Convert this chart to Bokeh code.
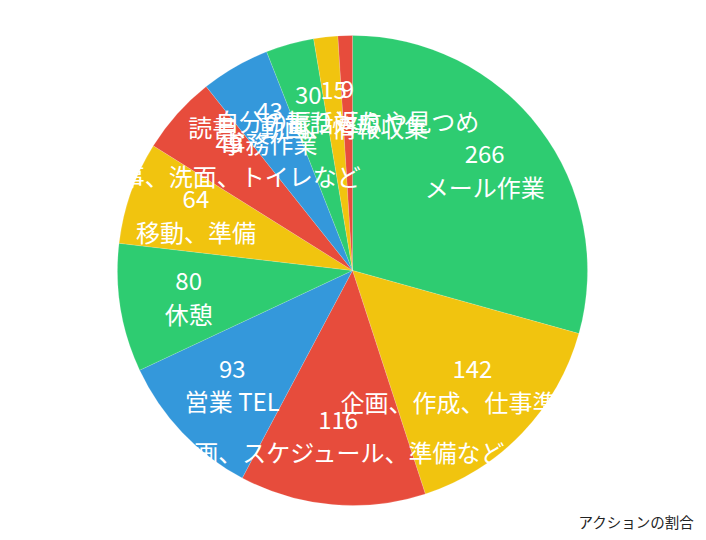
"""
Pie chart of how the working time was spent (アクションの割合).
"""

import numpy as np
from bokeh.core.properties import value
from bokeh.embed import file_html
from bokeh.models import ColumnDataSource, Range1d
from bokeh.plotting import figure
from bokeh.resources import INLINE

# slice values, clockwise from 12 o'clock
counts = [266, 142, 116, 93, 80, 64, 49, 43, 30, 15, 9]
actions = [
    "メール作業",
    "企画、作成、仕事準備等",
    "計画、スケジュール、準備など",
    "営業 TEL",
    "休憩",
    "移動、準備",
    "食事、洗面、トイレなど",
    "事務作業",
    "読書、動画、情報収集",
    "電話対応",
    "自分の振り返りや見つめ",
]
palette = ["#2ECC71", "#F1C40F", "#E74C3C", "#3498DB"]
chart_title = "アクションの割合"

FONT = "Noto Sans CJK JP"

# screen pixels are used as data units
cx, cy = 352, 270
radius = 235
label_radius = 166

values = np.array(counts, dtype=float)
fractions = values / values.sum()
ends = np.cumsum(fractions)
starts = ends - fractions
mids = (starts + ends) / 2

# clockwise from the top -> bokeh's anticlockwise angles from +x
source = ColumnDataSource(dict(
    start=np.pi / 2 - 2 * np.pi * ends,
    end=np.pi / 2 - 2 * np.pi * starts,
    color=[palette[i % len(palette)] for i in range(len(counts))],
    lx=cx + label_radius * np.sin(2 * np.pi * mids),
    ly=cy + label_radius * np.cos(2 * np.pi * mids),
    num=[str(c) for c in counts],
    name=actions,
))
source.data["num_y"] = source.data["ly"] + 16
source.data["name_y"] = source.data["ly"] - 16

p = figure(
    width=698,
    height=532,
    x_range=Range1d(0, 698),
    y_range=Range1d(8, 540),
    toolbar_location=None,
    output_backend="svg",
    min_border=0,
)
p.axis.visible = False
p.grid.visible = False
p.outline_line_color = None
p.background_fill_color = "white"

p.wedge(
    x=cx, y=cy, radius=radius,
    start_angle="start", end_angle="end", direction="anticlock",
    fill_color="color", line_color="white", line_width=0.5, line_alpha=0.3,
    source=source,
)

p.text(
    x="lx", y="num_y", text="num", source=source,
    text_color="white", text_font=value(FONT), text_font_size="24px",
    text_align="center", text_baseline="middle",
)
p.text(
    x="lx", y="name_y", text="name", source=source,
    text_color="white", text_font=value(FONT), text_font_size="24px",
    text_align="center", text_baseline="middle",
)

p.text(
    x=[694], y=[19], text=[chart_title],
    text_color="#222222", text_font=value(FONT), text_font_size="14.5px",
    text_align="right", text_baseline="middle",
)

open("out.html", "w").write(file_html(p, INLINE))
